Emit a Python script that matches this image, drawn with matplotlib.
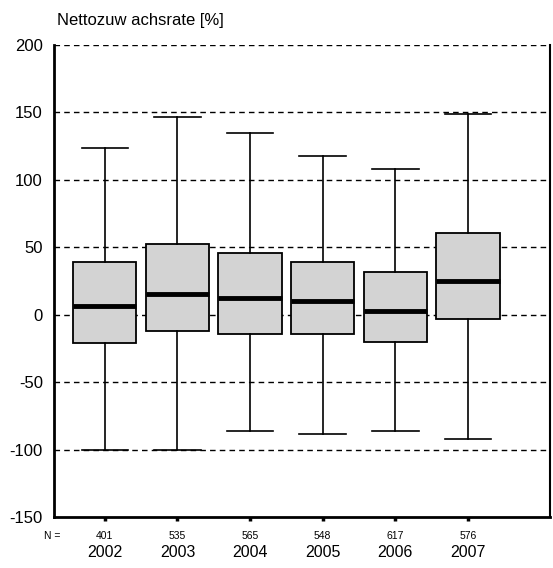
import matplotlib
matplotlib.use("Agg")
import matplotlib.pyplot as plt
from matplotlib.transforms import blended_transform_factory

plt.rcParams['font.family'] = ['Liberation Sans', 'DejaVu Sans']

# Net growth rate per year: box plot summary statistics
years = ["2002", "2003", "2004", "2005", "2006", "2007"]
counts = [401, 535, 565, 548, 617, 576]
whisker_low = [-100, -100, -86, -88.5, -86.5, -92]
q1 = [-21.3, -12.3, -14.3, -14.6, -20, -3]
median = [6.4, 15.6, 12.4, 9.9, 3.0, 25]
q3 = [38.8, 52.7, 45.8, 38.8, 31.9, 60.8]
whisker_high = [123.3, 146.8, 134.9, 117.6, 108.4, 149]
y_ticks = [-150, -100, -50, 0, 50, 100, 150, 200]

stats = []
for i, yr in enumerate(years):
    stats.append(dict(label=yr, whislo=whisker_low[i], q1=q1[i], med=median[i],
                      q3=q3[i], whishi=whisker_high[i], fliers=[]))

fig = plt.figure(figsize=(5.53, 5.68), dpi=100)
ax = fig.add_axes([0.0976, 0.0898, 0.897, 0.831])

# dashed reference lines
for v in y_ticks[1:]:
    ax.axhline(v, color='black', lw=1.0, ls=(0, (4, 3)), zorder=0)

positions = list(range(1, len(years) + 1))
ax.bxp(stats, positions=positions, widths=0.87, patch_artist=True,
       showfliers=False,
       boxprops=dict(facecolor='#d3d3d3', edgecolor='black', linewidth=1.3),
       medianprops=dict(color='black', linewidth=3.5, solid_capstyle='butt'),
       whiskerprops=dict(color='black', linewidth=1.2),
       capprops=dict(color='black', linewidth=1.2),
       capwidths=0.64, zorder=2)

ax.set_xlim(0.30, 7.13)
ax.set_ylim(-150, 200)
ax.set_yticks(y_ticks)
ax.set_yticklabels([str(v) for v in y_ticks], fontsize=12)
ax.tick_params(axis='y', length=0, pad=8)
ax.set_xticks(positions)
ax.set_xticklabels(years, fontsize=11.5)
ax.tick_params(axis='x', length=3, width=2.5, direction='out', pad=17)

for side in ['left', 'bottom']:
    ax.spines[side].set_linewidth(2.0)
ax.spines['right'].set_linewidth(1.5)
ax.spines['top'].set_visible(False)

trans = blended_transform_factory(ax.transData, ax.transAxes)
for p, n in zip(positions, counts):
    ax.text(p, -0.04, str(n), transform=trans, ha='center', va='center', fontsize=7.5)
fig.text(0.1085, 0.0565, "N =", ha='right', va='center', fontsize=7.5)

fig.text(0.103, 0.964, "Nettozuw achsrate [%]", ha='left', va='center', fontsize=12)

fig.savefig("out.png", dpi=100)
